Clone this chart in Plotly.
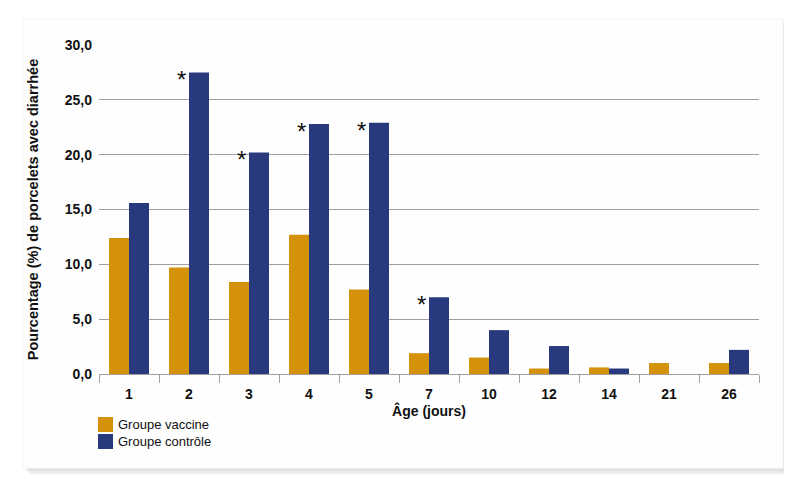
import plotly.graph_objects as go

# data
ages = ['1', '2', '3', '4', '5', '7', '10', '12', '14', '21', '26']
vaccine = [12.4, 9.7, 8.4, 12.7, 7.7, 1.9, 1.5, 0.5, 0.6, 1.0, 1.0]
controle = [15.6, 27.5, 20.2, 22.8, 22.9, 7.0, 4.0, 2.55, 0.5, 0.0, 2.2]
significant = ['2', '3', '4', '5', '7']
y_ticks = [0, 5, 10, 15, 20, 25, 30]

GOLD = '#D4910A'
NAVY = '#283A7D'
GRID = '#A0A0A0'
FONT = 'Liberation Sans, Arial, sans-serif'

# the html page has an 8px body margin, so the figure is drawn 8px smaller
O = 8
W, H = 792 - O, 479 - O
L, R, T, B = 99 - O, 33, 45 - O, 105
PW, PH = W - L - R, H - T - B


def px(x):
    # page pixel -> paper coordinate
    return (x - O - L) / PW


def py(y):
    return (H - B - (y - O)) / PH


fig = go.Figure()
fig.add_trace(go.Bar(x=ages, y=vaccine, name='Groupe vaccine', marker=dict(color=GOLD, line_width=0)))
fig.add_trace(go.Bar(x=ages, y=controle, name='Groupe contrôle', marker=dict(color=NAVY, line_width=0)))

shapes = []
# card shadow + card
for off, op in [(7, 0.25), (5, 0.35), (3, 0.5)]:
    shapes.append(dict(type='rect', xref='paper', yref='paper', layer='below',
                       x0=px(23 + off), x1=px(783 + off), y0=py(468 + off), y1=py(19 + off),
                       fillcolor='#d8d8d8', opacity=op, line_width=0))
shapes.append(dict(type='rect', xref='paper', yref='paper', layer='below',
                   x0=px(23), x1=px(783), y0=py(468), y1=py(19),
                   fillcolor='#fefefe', line=dict(color='#f4f4f4', width=1)))

annotations = []
# legend drawn by hand: big squares and plain text
for i, (name, col) in enumerate([('Groupe vaccine', GOLD), ('Groupe contrôle', NAVY)]):
    y0 = 417 + i * 17
    shapes.append(dict(type='rect', xref='paper', yref='paper',
                       x0=px(98), x1=px(113), y0=py(y0 + 15), y1=py(y0),
                       fillcolor=col, line_width=0))
    annotations.append(dict(xref='paper', yref='paper', x=px(116), y=py(y0 + 7.5),
                            xanchor='left', yanchor='middle', showarrow=False,
                            text=name, font=dict(size=13, color='#111', family=FONT)))

# significance stars (category index as x, numeric strings would be read as positions)
for i, (a, v) in enumerate(zip(ages, controle)):
    if a in significant:
        annotations.append(dict(x=i, y=v, xref='x', yref='y', text='*', showarrow=False,
                                xshift=-7.5, yshift=-7.5, xanchor='center', yanchor='middle',
                                font=dict(size=24, color='#111', family=FONT)))

fig.update_layout(
    width=W, height=H,
    margin=dict(l=L, r=R, t=T, b=B),
    paper_bgcolor='white', plot_bgcolor='rgba(0,0,0,0)',
    barmode='group', bargap=1 / 3, bargroupgap=0,
    separators=', ',
    showlegend=False,
    font=dict(family=FONT, color='#111'),
    shapes=shapes, annotations=annotations,
)
fig.update_xaxes(type='category', tickson='boundaries', ticks='outside', ticklen=8, tickcolor=GRID,
                 showline=True, linecolor=GRID, linewidth=1, showgrid=False, ticklabelstandoff=7,
                 tickfont=dict(size=14, family='Liberation Sans', weight='bold'),
                 title=dict(text='<b>Âge (jours)</b>', font=dict(size=14), standoff=5))
fig.update_yaxes(range=[0, 30], tickvals=y_ticks, tickformat='.1f', showgrid=True, gridcolor=GRID,
                 gridwidth=1, zeroline=False, showline=False, ticks='', ticklabelstandoff=6,
                 tickfont=dict(size=14, family='Liberation Sans', weight='bold'),
                 title=dict(text='<b>Pourcentage (%) de porcelets avec diarrhée</b>', font=dict(size=14.5),
                            standoff=22))

fig.write_html("out.html")
